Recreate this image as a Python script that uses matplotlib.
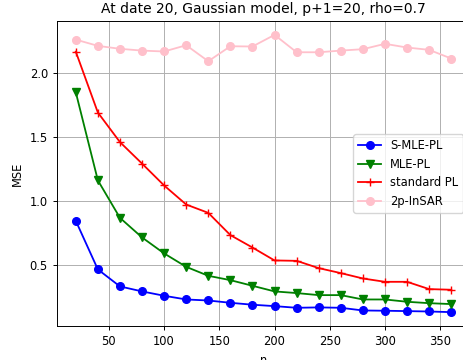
import matplotlib
matplotlib.use("Agg")
import matplotlib.pyplot as plt

n = [20, 40, 60, 80, 100, 120, 140, 160, 180, 200, 220, 240, 260, 280, 300, 320, 340, 360]

s_mle_pl = [0.844, 0.464, 0.331, 0.292, 0.258, 0.229, 0.221, 0.203, 0.188, 0.177,
            0.164, 0.167, 0.164, 0.143, 0.141, 0.138, 0.135, 0.130]
mle_pl = [1.849, 1.16, 0.867, 0.714, 0.589, 0.484, 0.414, 0.380, 0.336, 0.292,
          0.279, 0.263, 0.263, 0.229, 0.229, 0.211, 0.200, 0.193]
standard_pl = [2.166, 1.69, 1.459, 1.291, 1.120, 0.971, 0.906, 0.732, 0.635, 0.534,
               0.531, 0.474, 0.435, 0.393, 0.367, 0.367, 0.310, 0.305]
insar_2p = [2.260, 2.211, 2.188, 2.174, 2.167, 2.216, 2.091, 2.208, 2.206, 2.297,
            2.161, 2.161, 2.174, 2.185, 2.227, 2.198, 2.180, 2.112]

# the reference looks like a default figure shrunk by ~0.83
plt.rcParams.update({
    "font.size": 8.3,
    "axes.titlesize": 10,
    "lines.linewidth": 1.3,
    "lines.markersize": 5.5,
    "axes.linewidth": 0.7,
    "grid.linewidth": 0.7,
    "xtick.major.width": 0.7,
    "ytick.major.width": 0.7,
    "xtick.major.size": 3,
    "ytick.major.size": 3,
})

fig = plt.figure(figsize=(4.64, 3.6), dpi=100)
# the right side of the axes runs past the picture edge, as in the original
ax = fig.add_axes([57 / 464, 34 / 360, 413 / 464, 305 / 360])

ax.plot(n, s_mle_pl, color="blue", marker="o", label="S-MLE-PL")
ax.plot(n, mle_pl, color="green", marker="v", label="MLE-PL")
ax.plot(n, standard_pl, color="red", marker="+", label="standard PL")
ax.plot(n, insar_2p, color="pink", marker="o", label="2p-InSAR")

ax.set_title("At date 20, Gaussian model, p+1=20, rho=0.7")
ax.set_xlabel("n")
ax.set_ylabel("MSE")
ax.grid(True)
ax.legend(loc="center right", borderaxespad=0.6)

plt.savefig("out.png", dpi=100)
